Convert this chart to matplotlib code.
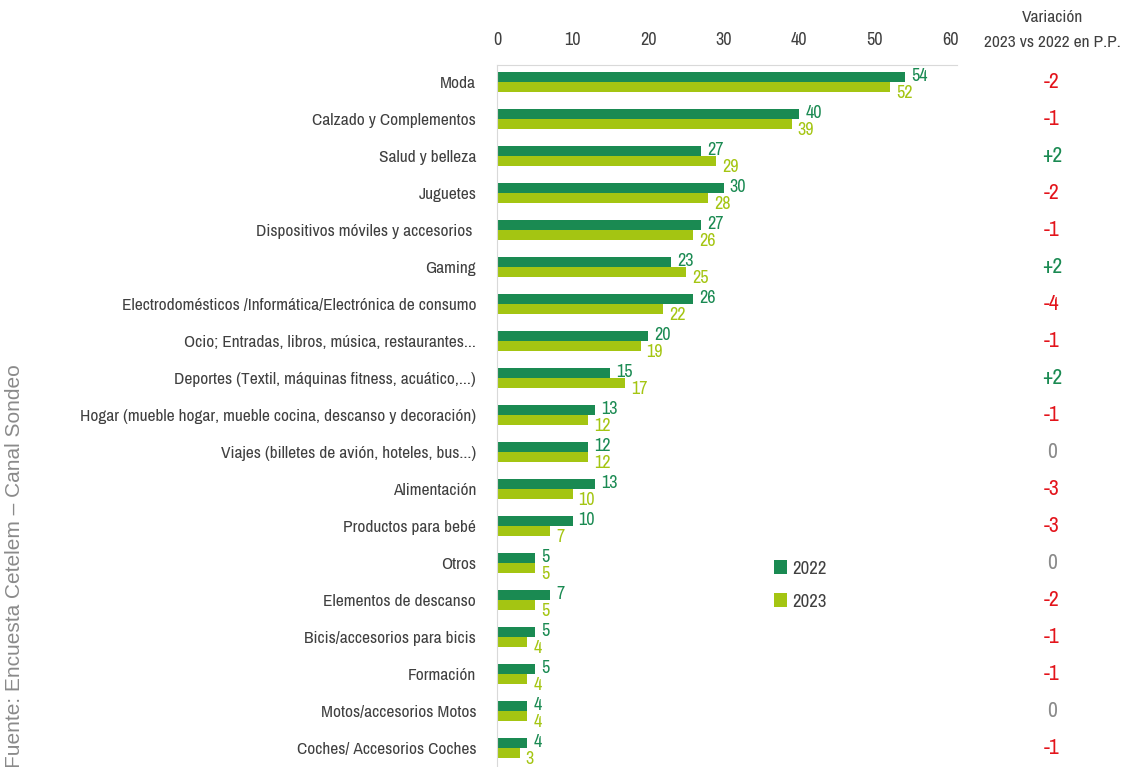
import matplotlib
matplotlib.use("Agg")
import matplotlib.pyplot as plt
from matplotlib import font_manager
import numpy as np

categories = ["Moda", "Calzado y Complementos", "Salud y belleza", "Juguetes",
              "Dispositivos móviles y accesorios ", "Gaming",
              "Electrodomésticos /Informática/Electrónica de consumo",
              "Ocio; Entradas, libros, música, restaurantes...",
              "Deportes (Textil, máquinas fitness, acuático,...)",
              "Hogar (mueble hogar, mueble cocina, descanso y decoración)",
              "Viajes (billetes de avión, hoteles, bus...)", "Alimentación",
              "Productos para bebé", "Otros", "Elementos de descanso",
              "Bicis/accesorios para bicis", "Formación",
              "Motos/accesorios Motos", "Coches/ Accesorios Coches"]
v2022 = [54, 40, 27, 30, 27, 23, 26, 20, 15, 13, 12, 13, 10, 5, 7, 5, 5, 4, 4]
v2023 = [52, 39, 29, 28, 26, 25, 22, 19, 17, 12, 12, 10, 7, 5, 5, 4, 4, 4, 3]
variacion = ["-2", "-1", "+2", "-2", "-1", "+2", "-4", "-1", "+2", "-1", "0",
             "-3", "-3", "0", "-2", "-1", "-1", "0", "-1"]
xticks = [0, 10, 20, 30, 40, 50, 60]

c22 = "#1a8a52"
c23 = "#a4c512"
txt = "#404040"

# look for a narrow font, otherwise Roboto
names = sorted({f.name for f in font_manager.fontManager.ttflist})
narrow_name = None
for n in names:
    if "Narrow" in n or "Condensed" in n:
        narrow_name = n
        break
if narrow_name:
    narrow = [narrow_name, "DejaVu Sans"]
    fs = 12.5
else:
    narrow = ["Roboto", "DejaVu Sans"]
    fs = 10.5

fig = plt.figure(figsize=(11.21, 7.67), dpi=100)
ax = fig.add_axes([497 / 1121, 0, 460 / 1121, 1 - 65 / 767])

y = np.arange(len(categories))
h = 0.27
ax.barh(y - h / 2, v2022, height=h, color=c22, label="2022")
ax.barh(y + h / 2, v2023, height=h, color=c23, label="2023")

for i in range(len(categories)):
    ax.text(v2022[i] + 0.8, y[i] - h / 2 - 0.02, str(v2022[i]), color=c22,
            fontsize=fs + 0.5, family=narrow, va="center", ha="left")
    ax.text(v2023[i] + 0.8, y[i] + h / 2 + 0.16, str(v2023[i]), color=c23,
            fontsize=fs + 0.5, family=narrow, va="center", ha="left")
    col = "#e3141b" if variacion[i].startswith("-") else (c22 if variacion[i].startswith("+") else "#8a8a8a")
    fig.text(1052 / 1121, 1 - (82 + 37 * i) / 767, variacion[i], color=col,
             fontsize=fs + 3, family=narrow, ha="center", va="center")

ax.set_xlim(0, 60.9)
ax.set_ylim(18.51, -0.46)
ax.set_yticks(y)
ax.set_yticklabels(categories, family=narrow, fontsize=fs, color=txt)
ax.xaxis.tick_top()
ax.set_xticks(xticks)
ax.set_xticklabels([str(t) for t in xticks], family=narrow, fontsize=fs + 0.5, color=txt)
ax.tick_params(axis="both", length=0)
ax.tick_params(axis="y", pad=15)
ax.tick_params(axis="x", pad=12)
for s in ["right", "bottom"]:
    ax.spines[s].set_visible(False)
ax.spines["top"].set_color("#d9d9d9")
ax.spines["left"].set_color("#d9d9d9")

fig.text(1052 / 1121, 1 - 30 / 767, "Variación\n2023 vs 2022 en P.P.", color=txt,
         fontsize=fs, family=narrow, ha="center", va="center", linespacing=1.9)

fig.legend(loc="center left", bbox_to_anchor=(766 / 1121, 1 - 585 / 767), frameon=False,
           prop={"family": narrow, "size": fs + 1}, handlelength=0.7, handleheight=0.7,
           labelspacing=0.9, handletextpad=0.3, labelcolor=txt, borderaxespad=0)

fig.text(15 / 1121, 1 - 566 / 767, "Fuente: Encuesta Cetelem – Canal Sondeo",
         rotation=90, color="#8a8a8a", fontsize=15, family="Liberation Sans",
         ha="center", va="center")

fig.savefig("out.png", dpi=100)
